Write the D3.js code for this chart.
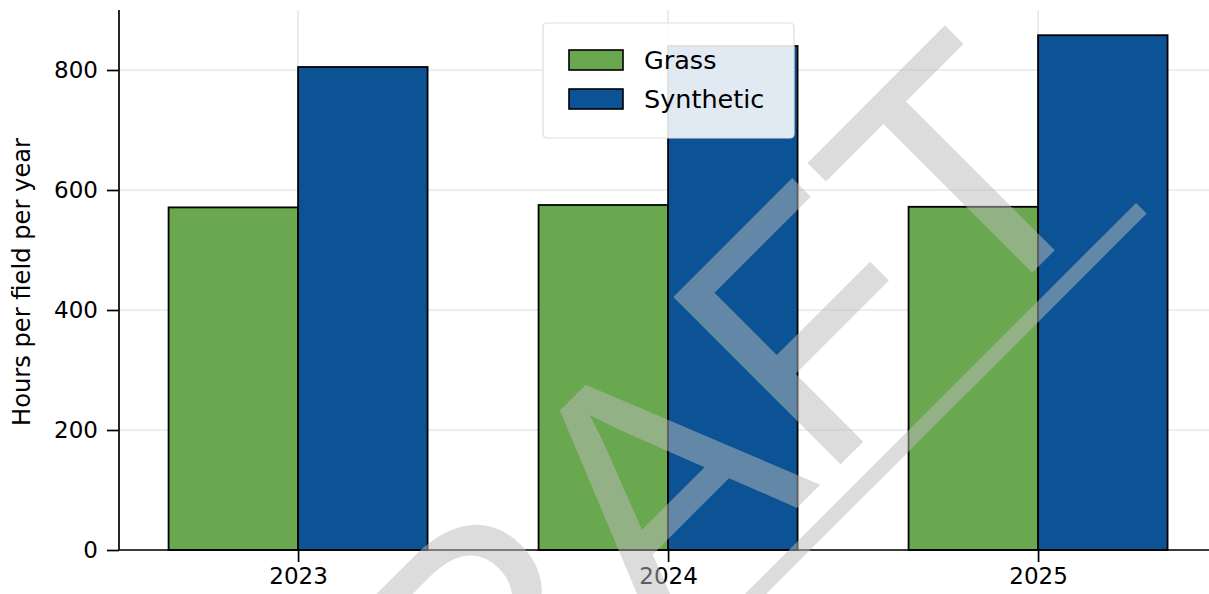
<!DOCTYPE html>
<html>
<head>
<meta charset="utf-8">
<script src="https://cdn.jsdelivr.net/npm/d3@7"></script>
<style>
  body { margin: 0; background: #fff; }
  svg { display: block; font-family: "DejaVu Sans", sans-serif; }
</style>
</head>
<body>
<div id="chart"></div>
<script>
const years = ["2023", "2024", "2025"];
const grass = [571, 575, 572];
const synthetic = [805, 840, 858];
const seriesNames = ["Grass", "Synthetic"];
const seriesColors = ["#6aa84f", "#0b5394"];
const yTicks = [0, 200, 400, 600, 800];

const width = 1209, height = 594;
const margin = {top: 10, right: 0, bottom: 44, left: 119};

let svg = d3.select("#chart").append("svg")
    .attr("width", width)
    .attr("height", height);

let x = d3.scaleLinear()
    .domain([-0.484, 2.462])
    .range([margin.left, width - margin.right]);

let y = d3.scaleLinear()
    .domain([0, 900])
    .range([height - margin.bottom, margin.top]);

let barW = x(0.35) - x(0);

// grid
svg.append("g").selectAll("line.h")
    .data(yTicks)
    .join("line")
    .attr("x1", margin.left).attr("x2", width)
    .attr("y1", d => y(d)).attr("y2", d => y(d))
    .attr("stroke", "#e6e6ec").attr("stroke-width", 1.5);

svg.append("g").selectAll("line.v")
    .data(years)
    .join("line")
    .attr("x1", (d, i) => x(i)).attr("x2", (d, i) => x(i))
    .attr("y1", margin.top).attr("y2", y(0))
    .attr("stroke", "#e6e6ec").attr("stroke-width", 1.5);

// bars
let series = [grass, synthetic];
series.forEach((vals, s) => {
    svg.append("g").selectAll("rect")
        .data(vals)
        .join("rect")
        .attr("x", (d, i) => s === 0 ? x(i) - barW : x(i))
        .attr("width", barW)
        .attr("y", d => y(d))
        .attr("height", d => y(0) - y(d))
        .attr("fill", seriesColors[s])
        .attr("stroke", "#000")
        .attr("stroke-width", 1.8);
});

// axes
let yAxis = svg.append("g")
    .attr("transform", `translate(${margin.left},0)`)
    .call(d3.axisLeft(y).tickValues(yTicks).tickSize(12).tickPadding(9));

let xAxis = svg.append("g")
    .attr("transform", `translate(0,${y(0)})`)
    .call(d3.axisBottom(x).tickValues([0, 1, 2]).tickFormat(i => years[i]).tickSize(12).tickPadding(6));

[yAxis, xAxis].forEach(a => {
    a.select(".domain").attr("stroke", "#000").attr("stroke-width", 1.7);
    a.selectAll(".tick line").attr("stroke", "#000").attr("stroke-width", 1.7);
    a.selectAll(".tick text")
        .attr("font-family", "DejaVu Sans")
        .attr("font-size", 23)
        .attr("fill", "#000");
});
yAxis.select(".domain").attr("d", `M0,${margin.top}V${y(0)}`);
xAxis.select(".domain").attr("d", `M${margin.left},0H${width}`);

svg.append("text")
    .attr("transform", `translate(22,282) rotate(-90)`)
    .attr("text-anchor", "middle")
    .attr("dominant-baseline", "central")
    .attr("font-size", 24.2)
    .text("Hours per field per year");

// legend
let legend = svg.append("g").attr("transform", "translate(543,23)");
legend.append("rect")
    .attr("width", 251).attr("height", 115)
    .attr("rx", 4)
    .attr("fill", "#fff").attr("fill-opacity", 0.88)
    .attr("stroke", "#dedede").attr("stroke-width", 1.2);

let items = legend.selectAll("g.item")
    .data(seriesNames)
    .join("g")
    .attr("transform", (d, i) => `translate(26,${27 + i * 39})`);
items.append("rect")
    .attr("width", 54).attr("height", 20)
    .attr("fill", (d, i) => seriesColors[i])
    .attr("stroke", "#000").attr("stroke-width", 1.6);
items.append("text")
    .attr("x", 75).attr("y", 10)
    .attr("dominant-baseline", "central")
    .attr("font-size", 25.5)
    .text(d => d);

// watermark
let wm = svg.append("g")
    .attr("transform", "translate(712.5,592.5) rotate(-45)")
    .attr("opacity", 0.5);
wm.append("text")
    .attr("text-anchor", "middle")
    .attr("font-family", "Liberation Sans, Arial, sans-serif")
    .attr("font-size", 344)
    .attr("fill", "#bbbbbb")
    .text("DRAFT");
wm.append("rect")
    .attr("x", -574).attr("y", 24)
    .attr("width", 1149).attr("height", 15)
    .attr("fill", "#bbbbbb");
</script>
</body>
</html>
